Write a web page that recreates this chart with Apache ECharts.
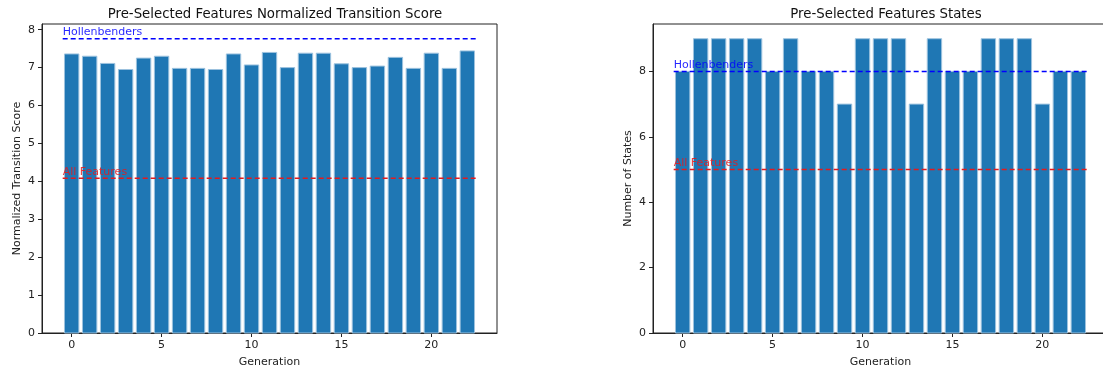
<!DOCTYPE html>
<html>
<head>
<meta charset="utf-8">
<script src="https://cdn.jsdelivr.net/npm/echarts@6/dist/echarts.min.js"></script>
<style>
html,body{margin:0;padding:0;background:#fff;}
#c{width:1103px;height:371px;}
</style>
</head>
<body>
<div id="c"></div>
<script>
const generations = [0,1,2,3,4,5,6,7,8,9,10,11,12,13,14,15,16,17,18,19,20,21,22];
const scoreValues = [7.36,7.30,7.11,6.95,7.25,7.30,6.98,6.98,6.95,7.36,7.07,7.40,7.00,7.38,7.38,7.10,7.00,7.04,7.27,6.98,7.38,6.98,7.44];
const stateValues = [8,9,9,9,9,8,9,8,8,7,9,9,9,7,9,8,8,9,9,9,7,8,8];
const scoreRefs = {hollenbenders: 7.76, allFeatures: 4.08};
const stateRefs = {hollenbenders: 8, allFeatures: 5};
const xTicks = [0,5,10,15,20];
const scoreTicks = [0,1,2,3,4,5,6,7,8];
const stateTicks = [0,2,4,6,8];
const titles = ['Pre-Selected Features Normalized Transition Score','Pre-Selected Features States'];
const yNames = ['Normalized Transition Score','Number of States'];
const xName = 'Generation';

const FONT = 'DejaVu Sans';
const chart = echarts.init(document.getElementById('c'));

function barSeries(idx, vals){
  return {
    type:'custom', xAxisIndex:idx, yAxisIndex:idx,
    data: generations.map((g,i)=>[g, vals[i]]),
    renderItem: function(params, api){
      const x = api.value(0), v = api.value(1);
      const p0 = api.coord([x-0.4, v]);
      const p1 = api.coord([x+0.4, 0]);
      return {type:'rect', shape:{x:p0[0], y:p0[1], width:p1[0]-p0[0], height:p1[1]-p0[1]},
        style:{fill:'#1f77b4', stroke:'#9dc3df', lineWidth:1}};
    },
    z:2
  };
}
function refLine(idx, val, color){
  return {
    type:'line', xAxisIndex:idx, yAxisIndex:idx,
    data:[[-0.5,val],[22.5,val]],
    symbol:'none', silent:true,
    lineStyle:{color:color, type:[5,3], width:1.5},
    z:3
  };
}
function refLabel(idx, val, color, label){
  return {
    type:'scatter', xAxisIndex:idx, yAxisIndex:idx,
    data:[[-0.5,val]], symbolSize:0, silent:true,
    label:{show:true, formatter:label, position:[0,0], align:'left', verticalAlign:'bottom',
      offset:[0,-1], color:color, fontFamily:FONT, fontSize:11, opacity:0.85},
    z:4
  };
}
function xAxis(idx){
  return {
    type:'value', gridIndex:idx, min:-1.65, max:23.65,
    name:xName, nameLocation:'middle', nameGap:24,
    nameTextStyle:{fontFamily:FONT, fontSize:11, color:'#222'},
    axisLine:{show:true, onZero:false, lineStyle:{color:'#222', width:1}},
    axisTick:{show:true, length:4, customValues:xTicks, lineStyle:{color:'#222'}},
    axisLabel:{customValues:xTicks, margin:7, fontFamily:FONT, fontSize:11, color:'#222'},
    splitLine:{show:false}
  };
}
function yAxis(idx, max, ticks, name){
  return {
    type:'value', gridIndex:idx, min:0, max:max,
    name:name, nameLocation:'middle', nameGap:19,
    nameTextStyle:{fontFamily:FONT, fontSize:11, color:'#222'},
    axisLine:{show:true, onZero:false, lineStyle:{color:'#222', width:1}},
    axisTick:{show:true, length:4, customValues:ticks, lineStyle:{color:'#222'}},
    axisLabel:{customValues:ticks, margin:7, fontFamily:FONT, fontSize:11, color:'#222'},
    splitLine:{show:false}
  };
}

chart.setOption({
  animation:false,
  title:[
    {text:titles[0], left:270, top:3, textAlign:'center', textStyle:{fontFamily:FONT, fontSize:13.3, fontWeight:'normal', color:'#111'}},
    {text:titles[1], left:881, top:3, textAlign:'center', textStyle:{fontFamily:FONT, fontSize:13.3, fontWeight:'normal', color:'#111'}}
  ],
  grid:[
    {left:42, right:606, top:24, bottom:38, outerBoundsMode:'none', containLabel:false, show:true, borderColor:'#222', borderWidth:1, backgroundColor:'transparent'},
    {left:653, right:-5, top:24, bottom:38, outerBoundsMode:'none', containLabel:false, show:true, borderColor:'#222', borderWidth:1, backgroundColor:'transparent'}
  ],
  xAxis:[xAxis(0), xAxis(1)],
  yAxis:[yAxis(0, 8.15, scoreTicks, yNames[0]), yAxis(1, 9.45, stateTicks, yNames[1])],
  series:[
    barSeries(0, scoreValues),
    refLine(0, scoreRefs.hollenbenders, '#0000ff'),
    refLine(0, scoreRefs.allFeatures, '#e41a1c'),
    refLabel(0, scoreRefs.hollenbenders, '#0000ff', 'Hollenbenders'),
    refLabel(0, scoreRefs.allFeatures, '#e41a1c', 'All Features'),
    barSeries(1, stateValues),
    refLine(1, stateRefs.hollenbenders, '#0000ff'),
    refLine(1, stateRefs.allFeatures, '#e41a1c'),
    refLabel(1, stateRefs.hollenbenders, '#0000ff', 'Hollenbenders'),
    refLabel(1, stateRefs.allFeatures, '#e41a1c', 'All Features')
  ]
});
</script>
</body>
</html>
